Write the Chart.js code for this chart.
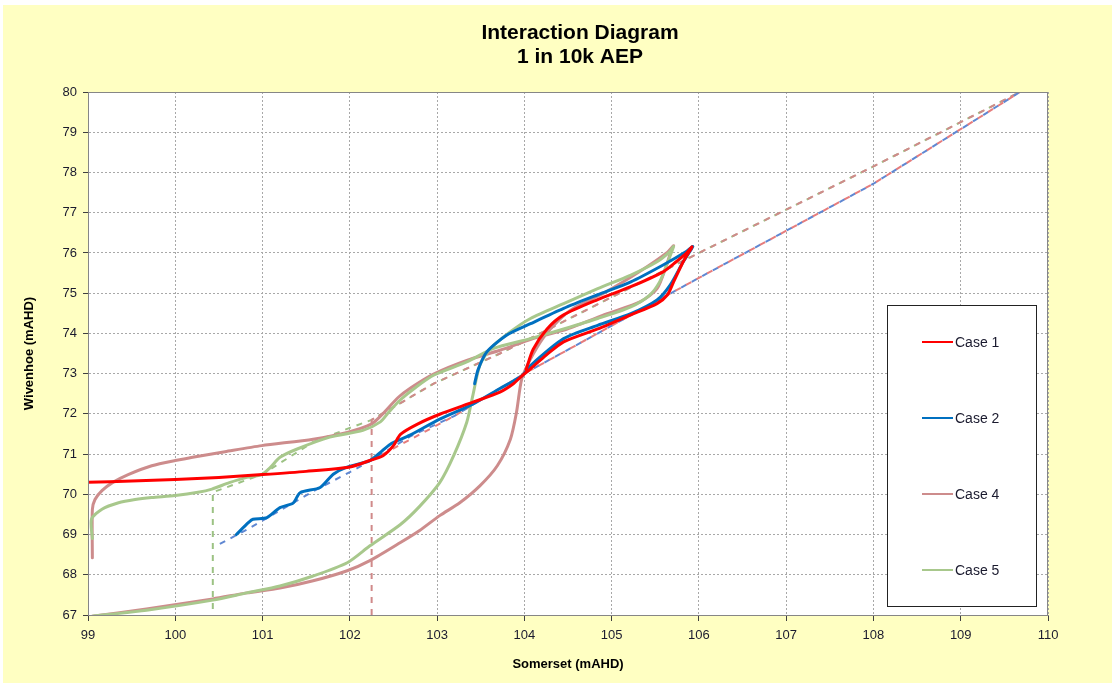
<!DOCTYPE html>
<html>
<head>
<meta charset="utf-8">
<title>Interaction Diagram</title>
<script src="https://cdn.jsdelivr.net/npm/chart.js@4.4.0/dist/chart.umd.min.js"></script>
<style>
  html, body { margin: 0; padding: 0; background: #fff; }
  canvas { display: block; }
</style>
</head>
<body>
<canvas id="chart" width="1115" height="686"></canvas>
<script>
// ---- axis ticks
var xTicks = [99, 100, 101, 102, 103, 104, 105, 106, 107, 108, 109, 110];
var yTicks = [67, 68, 69, 70, 71, 72, 73, 74, 75, 76, 77, 78, 79, 80];

// ---- series (Somerset x, Wivenhoe y)
var case1X = [99.0, 99.5, 100.0, 100.5, 101.0, 101.5, 102.0, 102.23, 102.38, 102.5, 102.58, 102.77, 103.03, 103.41, 103.72, 103.87, 103.97, 104.07, 104.25, 104.45, 104.84, 105.22, 105.52, 105.64, 105.71, 105.82, 105.92, 105.86, 105.74, 105.59, 105.22, 104.84, 104.45, 104.26, 104.1, 104.02];
var case1Y = [70.3, 70.33, 70.37, 70.42, 70.49, 70.57, 70.68, 70.84, 70.96, 71.21, 71.49, 71.74, 71.99, 72.29, 72.54, 72.74, 72.94, 73.12, 73.46, 73.79, 74.11, 74.46, 74.74, 74.96, 75.28, 75.78, 76.15, 76.0, 75.78, 75.53, 75.16, 74.84, 74.46, 74.11, 73.6, 73.1];

var case2X = [100.70, 100.84, 100.89, 101.05, 101.20, 101.35, 101.43, 101.66, 101.81, 101.96, 102.23, 102.35, 102.46, 102.69, 103.03, 103.38, 103.72, 103.97, 104.07, 104.45, 104.84, 105.22, 105.52, 105.67, 105.82, 105.93, 105.86, 105.59, 105.22, 104.84, 104.45, 104.07, 103.8, 103.57, 103.47, 103.43];
var case2Y = [69.0, 69.30, 69.38, 69.42, 69.67, 69.78, 70.04, 70.17, 70.50, 70.67, 70.84, 71.04, 71.24, 71.47, 71.87, 72.21, 72.63, 72.94, 73.2, 73.87, 74.2, 74.49, 74.83, 75.2, 75.78, 76.16, 76.04, 75.7, 75.28, 74.96, 74.62, 74.24, 73.96, 73.54, 73.1, 72.75];

var case4X = [99.05, 99.05, 99.08, 99.16, 99.28, 99.46, 99.73, 100.0, 100.3, 100.57, 100.99, 101.58, 101.97, 102.25, 102.4, 102.55, 102.7, 102.96, 103.34, 103.72, 104.1, 104.49, 104.95, 105.33, 105.52, 105.63, 105.69, 105.71, 105.63, 105.33, 104.95, 104.56, 104.38, 104.22, 104.07, 103.97, 103.91, 103.84, 103.69, 103.49, 103.26, 103.03, 102.8, 102.58, 102.23, 101.97, 101.58, 101.2, 100.82, 100.43, 99.67, 99.05];
var case4Y = [68.42, 69.62, 69.87, 70.09, 70.29, 70.49, 70.71, 70.84, 70.96, 71.06, 71.21, 71.37, 71.54, 71.75, 72.05, 72.4, 72.65, 72.99, 73.33, 73.58, 73.87, 74.11, 74.49, 74.79, 75.11, 75.7, 76.11, 76.18, 76.0, 75.55, 75.05, 74.62, 74.3, 73.9, 73.36, 72.87, 72.04, 71.37, 70.71, 70.21, 69.79, 69.47, 69.1, 68.8, 68.35, 68.1, 67.85, 67.67, 67.55, 67.4, 67.15, 66.97];

var case5X = [99.05, 99.04, 99.16, 99.35, 99.54, 99.73, 100.0, 100.26, 100.42, 100.62, 100.82, 100.99, 101.09, 101.2, 101.39, 101.77, 102.15, 102.35, 102.45, 102.58, 102.75, 102.96, 103.34, 103.64, 104.07, 104.45, 104.84, 105.22, 105.44, 105.55, 105.63, 105.71, 105.67, 105.52, 105.22, 104.84, 104.45, 104.07, 103.84, 103.61, 103.49, 103.41, 103.34, 103.19, 103.03, 102.8, 102.58, 102.23, 101.97, 101.58, 101.2, 100.82, 100.43, 99.67, 99.05];
var case5Y = [68.9, 69.38, 69.63, 69.79, 69.87, 69.92, 69.97, 70.05, 70.13, 70.29, 70.42, 70.49, 70.67, 70.92, 71.12, 71.42, 71.59, 71.8, 72.05, 72.35, 72.65, 72.96, 73.29, 73.62, 73.87, 74.11, 74.37, 74.66, 74.96, 75.28, 75.7, 76.16, 76.04, 75.78, 75.45, 75.11, 74.74, 74.37, 74.04, 73.62, 73.21, 72.46, 71.79, 70.96, 70.29, 69.7, 69.25, 68.72, 68.3, 67.97, 67.72, 67.55, 67.37, 67.12, 66.97];

// dashed operating lines
var case1DashX = [102.25, 103.2, 104.0, 106.0, 108.0, 109.68];
var case1DashY = [70.85, 71.95, 73.0, 75.38, 77.72, 80.0];
var case2DashX = [100.45, 100.82, 101.2, 101.6, 102.0, 102.25, 102.7, 103.2, 104.0, 106.0, 108.0, 109.68];
var case2DashY = [68.7, 69.12, 69.6, 70.1, 70.55, 70.85, 71.45, 71.95, 73.0, 75.38, 77.72, 80.0];
var case4DashX = [102.25, 102.25, 102.96, 103.72, 104.0, 106.0, 108.0, 109.68];
var case4DashY = [67.0, 71.85, 72.75, 73.5, 73.8, 76.0, 78.15, 80.0];
var case5DashX = [100.43, 100.43, 101.0, 101.58, 102.0, 102.25, 102.96, 103.72, 104.0, 106.0, 108.0, 109.68];
var case5DashY = [67.0, 70.05, 70.5, 71.3, 71.65, 71.85, 72.75, 73.5, 73.8, 76.0, 78.15, 80.0];

var legendNames = ['Case 1', 'Case 2', 'Case 4', 'Case 5'];
var legendColors = ['#FF0000', '#0070C0', '#CD8C8C', '#A8C88C'];

function pts(xs, ys) {
  return xs.map(function(x, i) { return {x: x, y: ys[i]}; });
}

function solid(label, xs, ys, color) {
  return {
    label: label, data: pts(xs, ys), showLine: true,
    borderColor: color, backgroundColor: color, borderWidth: 3,
    pointRadius: 0, tension: 0.25, fill: false,
    borderCapStyle: 'round', borderJoinStyle: 'round'
  };
}

function dashed(label, xs, ys, color, offset) {
  return {
    label: label, data: pts(xs, ys), showLine: true,
    borderColor: color, backgroundColor: color, borderWidth: 2,
    borderDash: [6, 6], borderDashOffset: offset,
    pointRadius: 0, tension: 0, fill: false
  };
}

// first dataset is drawn on top
var datasets = [
  solid('Case 1', case1X, case1Y, legendColors[0]),
  solid('Case 2', case2X, case2Y, legendColors[1]),
  solid('Case 5', case5X, case5Y, legendColors[3]),
  solid('Case 4', case4X, case4Y, legendColors[2]),
  dashed('Case 1 line', case1DashX, case1DashY, '#E67C7C', 0),
  dashed('Case 2 line', case2DashX, case2DashY, '#5F87D2', 6),
  dashed('Case 4 line', case4DashX, case4DashY, '#D08A8A', 0),
  dashed('Case 5 line', case5DashX, case5DashY, '#9CC283', 6)
];

var frame = {
  id: 'frame',
  beforeDraw: function(chart) {
    var ctx = chart.ctx, a = chart.chartArea;
    ctx.save();
    ctx.fillStyle = '#ffffff';
    ctx.fillRect(0, 0, chart.width, chart.height);
    ctx.fillStyle = '#FFFFC2';
    ctx.fillRect(3, 5, chart.width - 6, chart.height - 8);
    ctx.fillStyle = '#ffffff';
    ctx.fillRect(a.left, a.top, a.right - a.left, a.bottom - a.top);
    ctx.restore();
  },
  afterDraw: function(chart) {
    var ctx = chart.ctx, a = chart.chartArea;
    ctx.save();
    // plot border
    ctx.strokeStyle = '#868686';
    ctx.lineWidth = 1;
    ctx.strokeRect(a.left + 0.5, a.top + 0.5, a.right - a.left - 1, a.bottom - a.top);

    // title
    ctx.fillStyle = '#000';
    ctx.textAlign = 'center';
    ctx.textBaseline = 'middle';
    ctx.font = 'bold 21px Arial, "Liberation Sans", sans-serif';
    ctx.fillText('Interaction Diagram', 580, 33);
    ctx.fillText('1 in 10k AEP', 580, 57);

    // legend
    ctx.fillStyle = '#fff';
    ctx.fillRect(887, 305, 150, 302);
    ctx.strokeStyle = '#222';
    ctx.strokeRect(887.5, 305.5, 149, 301);
    ctx.font = '14px Arial, "Liberation Sans", sans-serif';
    ctx.textAlign = 'left';
    var rows = [342, 418, 494, 570];
    for (var i = 0; i < legendNames.length; i++) {
      ctx.strokeStyle = legendColors[i];
      ctx.lineWidth = 2;
      ctx.beginPath();
      ctx.moveTo(922, rows[i]);
      ctx.lineTo(953, rows[i]);
      ctx.stroke();
      ctx.fillStyle = '#1a1a2e';
      ctx.fillText(legendNames[i], 955, rows[i] + 1);
    }
    ctx.restore();
  }
};

var tickFont = {family: 'Arial, "Liberation Sans", sans-serif', size: 13};
var titleFont = {family: 'Arial, "Liberation Sans", sans-serif', size: 13, weight: 'bold'};

var chart = new Chart(document.getElementById('chart'), {
  type: 'scatter',
  data: {datasets: datasets},
  options: {
    responsive: false,
    animation: false,
    layout: {padding: {left: 16, right: 67, top: 92, bottom: 8}},
    plugins: {
      legend: {display: false},
      title: {display: false},
      tooltip: {enabled: false}
    },
    scales: {
      x: {
        type: 'linear', min: 99, max: 110,
        afterBuildTicks: function(s) { s.ticks = xTicks.map(function(v) { return {value: v}; }); },
        afterFit: function(s) { s.height = 686 - 615 - 8; },
        ticks: {font: tickFont, color: '#1a1a2e', padding: 7, maxRotation: 0},
        grid: {color: '#A8A8A8', lineWidth: 1, tickLength: 6, tickColor: '#404040', tickBorderDash: []},
        border: {color: '#868686', dash: [2, 2]},
        title: {display: true, text: 'Somerset (mAHD)', font: titleFont, color: '#000', padding: {top: 0, bottom: 6}}
      },
      y: {
        type: 'linear', min: 67, max: 80,
        afterBuildTicks: function(s) { s.ticks = yTicks.map(function(v) { return {value: v}; }); },
        afterFit: function(s) { s.width = 88 - 16; },
        ticks: {font: tickFont, color: '#1a1a2e', padding: 6},
        grid: {color: '#A8A8A8', lineWidth: 1, tickLength: 5, tickColor: '#404040', tickBorderDash: []},
        border: {color: '#868686', dash: [2, 2]},
        title: {display: true, text: 'Wivenhoe (mAHD)', font: titleFont, color: '#000', padding: {top: 6, bottom: 0}}
      }
    }
  },
  plugins: [frame]
});
</script>
</body>
</html>
